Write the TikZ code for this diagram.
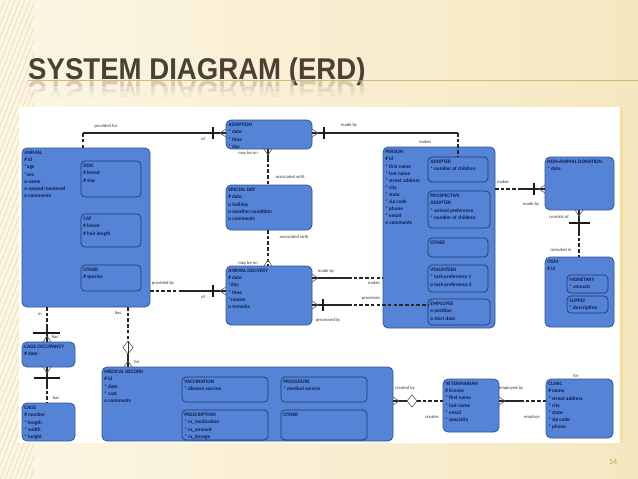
\documentclass[tikz,border=0pt]{standalone}
\usepackage{fontspec}
\usepackage{graphicx}
\setmainfont{Carlito}
\newfontfamily\titlefont{Liberation Sans}
\usetikzlibrary{calc}
\definecolor{bgL}{HTML}{FCF6E4}
\definecolor{bgR}{HTML}{F5E7C0}
\definecolor{stripec}{HTML}{EFE2C0}
\definecolor{entfill}{HTML}{5584D6}
\definecolor{entdraw}{HTML}{2F5497}
\definecolor{subdraw}{HTML}{1F3868}
\definecolor{navy}{HTML}{0E1B4D}
\definecolor{titlec}{HTML}{4A4036}
\definecolor{refc}{HTML}{BDB4A0}
\definecolor{lblc}{HTML}{3A3A3A}
\definecolor{numc}{HTML}{D19A45}
\definecolor{rulec}{HTML}{D8B774}
\definecolor{edgec}{HTML}{F2DE96}
\newcommand\mkbox[7][ent]{%
  \node[#1, anchor=north west, minimum width={(#5-#3)*1pt}, minimum height={(#6-#4)*1pt}] (#2) at (#3,#4) {};%
  \node[txt, anchor=north west] (#2-t) at ([shift={(2.2,3.2)}]#2.north west) {#7};%
}
\newcommand\crowL[1]{\draw[crowf] (#1) ++(0,-4) -- ++(-6,4) -- ++(6,4);}
\newcommand\crowR[1]{\draw[crowf] (#1) ++(0,-4) -- ++(6,4) -- ++(-6,4);}
\newcommand\crowU[1]{\draw[crowf] (#1) ++(-4,0) -- ++(4,-6) -- ++(4,6);}
\newcommand\crowD[1]{\draw[crowf] (#1) ++(-4,0) -- ++(4,6) -- ++(4,-6);}
\newcommand\barV[2]{\draw[barl] (#1,#2-6) -- (#1,#2+6);}
\newcommand\barH[3]{\draw[barl] (#1,#3) -- (#2,#3);}
\begin{document}
\begin{tikzpicture}[x=1pt,y=-1pt,
  ent/.style={draw=entdraw, fill=entfill, line width=0.8pt, rounded corners=5pt, inner sep=0, outer sep=0},
  sub/.style={draw=subdraw, fill=entfill, line width=0.7pt, rounded corners=4pt, inner sep=0, outer sep=0},
  txt/.style={text=navy, font=\fontsize{5.2}{7.1}\selectfont\bfseries, align=left, inner sep=0},
  lbl/.style={text=lblc, font=\fontsize{4.6}{5}\selectfont, inner sep=0},
  rel/.style={draw=black!85, line width=1.2pt},
  reld/.style={rel, dash pattern=on 3.5pt off 2.2pt},
  crowf/.style={draw=black!65, line width=0.6pt},
  barl/.style={draw=black!90, line width=1.1pt},
  diam/.style={draw=black!65, fill=white, line width=0.6pt},
  ttl/.style={anchor=base west, inner sep=0, font=\titlefont\bfseries\fontsize{30}{30}\selectfont}]
\useasboundingbox (0,0) rectangle (638,479);
% background
\shade[left color=bgL, right color=bgR] (0,0) rectangle (638,479);
\begin{scope}
  \clip (0,0) rectangle (34,479);
  \foreach \i in {-200,-195,...,40} \draw[stripec, line width=1pt] (\i,479) -- (\i+190,0);
\end{scope}
% title
\draw[rulec, line width=0.6pt] (28,80) -- (638,80);
\node[ttl, text=titlec] (title) at (28,79) {\scalebox{0.92}[1]{SYSTEM DIAGRAM (ERD)}};
\begin{scope}
  \clip (0,80.3) rectangle (638,85);
  \node[ttl, text=refc, opacity=0.6] (refl) at (28,81) {\scalebox{0.92}[-1]{SYSTEM DIAGRAM (ERD)}};
\end{scope}
\begin{scope}
  \clip (0,85) rectangle (638,90);
  \node[ttl, text=refc, opacity=0.35] (refl2) at (28,81) {\scalebox{0.92}[-1]{SYSTEM DIAGRAM (ERD)}};
\end{scope}
\begin{scope}
  \clip (0,90) rectangle (638,96);
  \node[ttl, text=refc, opacity=0.15] (refl3) at (28,81) {\scalebox{0.92}[-1]{SYSTEM DIAGRAM (ERD)}};
\end{scope}
% white diagram area
\fill[white] (19,107) rectangle (622,443);
\fill[edgec] (620,107) rectangle (623,443);
% entities
\mkbox{animal}{22}{148}{150}{307}{ANIMAL\\\# id\\*age\\*sex\\o name\\o spayed/neutered\\o comments}
\mkbox[sub]{dog}{81}{161}{141}{197}{DOG\\\# breed\\\# size}
\mkbox[sub]{cat}{81}{214}{141}{247}{CAT\\\# breed\\\# hair length}
\mkbox[sub]{aother}{81}{265}{141}{291}{OTHER\\\# species}
\mkbox{adoption}{226}{120}{312}{149}{ADOPTION\\* date\\* time\\* day}
\mkbox{specialday}{226}{185}{312}{230}{SPECIAL DAY\\\# date\\o holiday\\o weather condition\\o comments}
\mkbox{delivery}{226}{266}{312}{325}{ANIMAL DELIVERY\\\# date\\*day\\* time\\*reason\\o remarks}
\mkbox{person}{383}{147}{495}{328}{PERSON\\\# id\\* first name\\* last name\\* street address\\* city\\* state\\* zip code\\* phone\\* email\\o  comments}
\mkbox[sub]{adopter}{428}{157}{488}{182}{ADOPTER\\* number of children}
\mkbox[sub]{prospective}{428}{191}{490}{228}{PROSPECTIVE\\ADOPTER\\* animal preference\\* number of children}
\mkbox[sub]{pother}{428}{238}{488}{257}{OTHER}
\mkbox[sub]{volunteer}{428}{265}{488}{292}{VOLUNTEER\\* task preference 1\\o task preference 2}
\mkbox[sub]{employee}{428}{299}{490}{325}{EMPLOYEE\\o position\\o start date}
\mkbox{nad}{545}{157}{614}{210}{NON-ANIMAL DONATION\\* date}
\mkbox{item}{545}{257}{614}{327}{ITEM\\\# id}
\mkbox[sub]{monetary}{567}{275}{608}{293}{MONETARY\\* amount}
\mkbox[sub]{supply}{567}{296}{608}{313}{SUPPLY\\* description}
\mkbox{cageocc}{22}{342}{75}{367}{CAGE OCCUPANCY\\\# date}
\mkbox{cage}{22}{403}{75}{441}{CAGE\\\# number\\* length\\* width\\* height}
\mkbox{medrec}{102}{367}{393}{441}{MEDICAL RECORD\\\# id\\* date\\* cost\\o comments}
\mkbox[sub]{vacc}{182}{377}{268}{402}{VACCINATION\\* disease vaccine}
\mkbox[sub]{proc}{281}{377}{367}{402}{PROCEDURE\\* medical service}
\mkbox[sub]{presc}{182}{410}{268}{440}{PRESCRIPTION\\* rx\_medication\\* rx\_amount\\* rx\_dosage}
\mkbox[sub]{mother}{281}{410}{367}{440}{OTHER}
\mkbox{vet}{443}{379}{499}{432}{VETERINARIAN\\\# license\\* first name\\* last name\\* email\\* specialty}
\mkbox{clinic}{546}{379}{613}{438}{CLINIC\\\# name\\* street address\\* city\\* state\\* zip code\\* phone}
% C1 animal - adoption
\coordinate (k1) at (83,133);
\draw[reld] (animal.north -| k1) -- (k1);
\draw[rel] (k1) -- (adoption.west |- k1);
\barV{213}{133}
\crowL{adoption.west |- k1}
% C2 adoption - adopter
\coordinate (k2) at (458,133);
\draw[rel] (adoption.east |- k2) -- (k2);
\draw[reld] (k2) -- (adopter.north -| k2);
\crowR{adoption.east |- k2}
\barV{324}{133}
% C3 adoption - special day
\coordinate (k3) at (268,158);
\draw[rel] (adoption.south -| k3) -- (k3);
\draw[reld] (k3) -- (specialday.north -| k3);
\crowD{adoption.south -| k3}
% C4 special day - delivery
\coordinate (k4) at (268,235);
\draw[reld] (specialday.south -| k4) -- (delivery.north -| k4);
\crowU{delivery.north -| k4}
% C5 animal - delivery
\coordinate (k5) at (182,291);
\draw[reld] (animal.east |- k5) -- (k5);
\draw[rel] (k5) -- (delivery.west |- k5);
\barV{213}{291}
\crowL{delivery.west |- k5}
% C6 delivery - person
\coordinate (k6) at (348,278);
\draw[rel] (delivery.east |- k6) -- (k6);
\draw[reld] (k6) -- (person.west |- k6);
\crowR{delivery.east |- k6}
% C7 delivery - employee
\coordinate (k7) at (348,305);
\draw[rel] (delivery.east |- k7) -- (k7);
\draw[reld] (k7) -- (employee.west |- k7);
\crowR{delivery.east |- k7}
\barV{323}{305}
% C8 person - non-animal donation
\coordinate (k8) at (518,189);
\draw[reld] (person.east |- k8) -- (k8);
\draw[rel] (k8) -- (nad.west |- k8);
\barV{534}{189}
\crowL{nad.west |- k8}
% C9 donation - item
\coordinate (k9) at (579,232);
\draw[rel] (nad.south -| k9) -- (k9);
\draw[reld] (k9) -- (item.north -| k9);
\crowD{nad.south -| k9}
\barH{569}{590}{223}
% C10 animal - cage occupancy
\coordinate (k10) at (47,328);
\draw[reld] (animal.south -| k10) -- (k10);
\draw[rel] (k10) -- (cageocc.north -| k10);
\barH{33}{60}{333}
\crowU{cageocc.north -| k10}
% C11 cage occupancy - cage
\coordinate (k11) at (47,385);
\draw[rel] (cageocc.south -| k11) -- (k11);
\draw[reld] (k11) -- (cage.north -| k11);
\crowD{cageocc.south -| k11}
\barH{34}{60}{378}
% C12 animal - medical record
\coordinate (k12) at (128,341);
\draw[reld] (animal.south -| k12) -- (k12);
\draw[rel] (k12) -- (medrec.north -| k12);
\draw[diam] (k12) -- ++(5,6.5) -- ++(-5,6.5) -- ++(-5,-6.5) -- cycle;
\draw[black!80, line width=0.6pt] (k12) -- ++(0,13);
\crowU{medrec.north -| k12}
% C13 medical record - veterinarian
\coordinate (k13) at (407,401);
\draw[rel] (medrec.east |- k13) -- (k13);
\draw[reld] (k13) ++(10,0) -- (vet.west |- k13);
\draw[diam] (k13) -- ++(5,-6) -- ++(5,6) -- ++(-5,6) -- cycle;
\crowR{medrec.east |- k13}
% C14 veterinarian - clinic
\coordinate (k14) at (520,401);
\draw[rel] (vet.east |- k14) -- (k14);
\draw[reld] (k14) -- (clinic.west |- k14);
\crowR{vet.east |- k14}
% labels
\node[lbl] (l1) at (106,126) {provided for};
\node[lbl] (l2) at (203,139) {of};
\node[lbl] (l3) at (349,125) {made by};
\node[lbl] (l4) at (425,142) {makes};
\node[lbl] (l5) at (248,153) {may be on};
\node[lbl] (l6) at (290,177) {associated with};
\node[lbl] (l7) at (294,237) {associated with};
\node[lbl] (l8) at (248,263) {may be on};
\node[lbl] (l9) at (163,283) {provided by};
\node[lbl] (l10) at (203,297) {of};
\node[lbl] (l11) at (326,271) {made by};
\node[lbl] (l12) at (374,283) {makes};
\node[lbl] (l13) at (371,299) {processes};
\node[lbl] (l14) at (328,320) {processed by};
\node[lbl] (l15) at (503,182) {makes};
\node[lbl] (l16) at (531,204) {made by};
\node[lbl] (l17) at (559,217) {consists of};
\node[lbl] (l18) at (561,250) {included in};
\node[lbl] (l19) at (40,314) {in};
\node[lbl] (l20) at (55,337) {has};
\node[lbl] (l21) at (56,398) {has};
\node[lbl] (l22) at (118,313) {has};
\node[lbl] (l23) at (137,362) {for};
\node[lbl] (l24) at (405,388) {created by};
\node[lbl] (l25) at (432,417) {creates};
\node[lbl] (l26) at (511,388) {employed by};
\node[lbl] (l27) at (532,417) {employs};
\node[lbl] (l28) at (576,376) {for};
% page number
\node[text=numc, font=\fontsize{8}{8}\selectfont, inner sep=0] (pg) at (613,462) {14};
\end{tikzpicture}
\end{document}
